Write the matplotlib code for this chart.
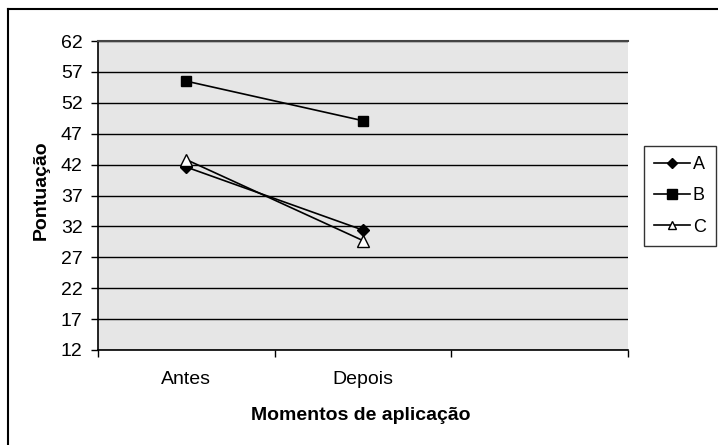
import matplotlib
matplotlib.use("Agg")
import matplotlib.pyplot as plt
from matplotlib.lines import Line2D

plt.rcParams['font.family'] = ['Liberation Sans', 'DejaVu Sans']

categories = ["Antes", "Depois", ""]
series_names = ["A", "B", "C"]
A = [41.6, 31.4]
B = [55.5, 49.1]
C = [42.8, 29.7]
yticks = [12, 17, 22, 27, 32, 37, 42, 47, 52, 57, 62]

W, H = 718, 445
fig = plt.figure(figsize=(W/100, H/100), dpi=100)
ax = fig.add_axes([98/W, 1-350/H, (628-98)/W, (350-41)/H])
ax.set_facecolor('#e6e6e6')

x = [0, 1]
ax.plot(x, A, color='black', lw=1.2, marker='D', ms=6, mfc='black', mec='black', label='A')
ax.plot(x, B, color='black', lw=1.2, marker='s', ms=7.5, mfc='black', mec='black', label='B')
ax.plot(x, C, color='black', lw=1.2, marker='^', ms=8, mfc='white', mec='black', label='C')

ax.set_xlim(-0.5, 2.5)
ax.set_ylim(12, 62)
ax.set_yticks(yticks)
ax.set_yticklabels([str(v) for v in yticks], fontsize=14)
ax.yaxis.grid(True, color='black', lw=1.0)
ax.set_axisbelow(True)
ax.set_xticks([-0.5, 0.5, 1.5, 2.5])
ax.set_xticklabels([])
ax.set_xticks([0, 1, 2], minor=True)
ax.set_xticklabels(categories, minor=True, fontsize=14)
ax.tick_params(axis='x', which='minor', length=0, pad=15)
ax.tick_params(axis='x', which='major', length=5, direction='out', width=1)
ax.tick_params(axis='y', length=5, direction='out', width=1, pad=6)
ax.spines['right'].set_visible(False)
ax.spines['top'].set_color('#444444')
ax.spines['top'].set_linewidth(1.5)
ax.spines['left'].set_linewidth(1.2)
ax.spines['bottom'].set_linewidth(1.2)

fig.text(41/W, 1-190/H, 'Pontuação', fontsize=14, fontweight='bold', rotation=90,
         ha='center', va='center')
fig.text(361/W, 1-420/H, 'Momentos de aplicação', fontsize=14, fontweight='bold',
         ha='center', va='baseline')

handles = [
    Line2D([], [], color='black', lw=1.2, marker='D', ms=5, mfc='black', mec='black'),
    Line2D([], [], color='black', lw=1.2, marker='s', ms=7, mfc='black', mec='black'),
    Line2D([], [], color='black', lw=1.2, marker='^', ms=6, mfc='white', mec='black'),
]
leg = fig.legend(handles, series_names, loc='upper left', bbox_to_anchor=(644/W, 1-146/H),
                 frameon=True, fancybox=False, edgecolor='black', fontsize=13,
                 handlelength=2.0, handletextpad=0.15, borderpad=0.55, labelspacing=0.8,
                 borderaxespad=0)
leg.get_frame().set_linewidth(1.0)

fig.add_artist(Line2D([8/W, 8/W], [0, 1-9/H], transform=fig.transFigure, color='black', lw=1.5))
fig.add_artist(Line2D([8/W, 1], [1-9/H, 1-9/H], transform=fig.transFigure, color='black', lw=1.5))
fig.savefig('out.png', dpi=100)
